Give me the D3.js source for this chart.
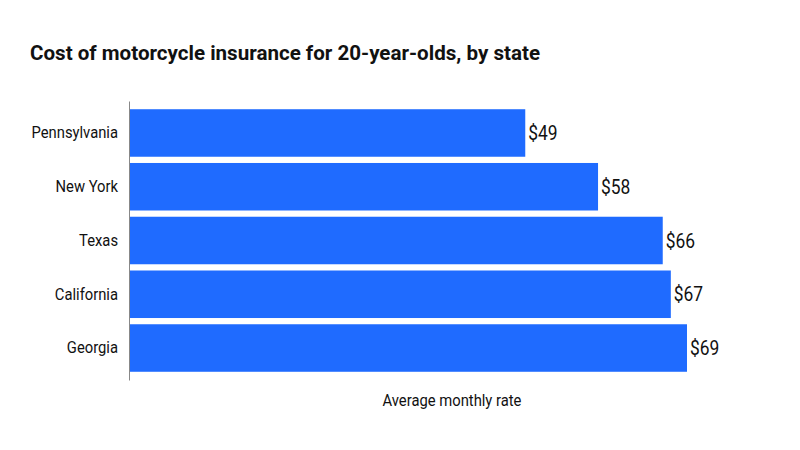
<!DOCTYPE html>
<html><head><meta charset="utf-8">
<script src="https://cdn.jsdelivr.net/npm/d3@7"></script>
<style>
body{margin:0;background:#fff;}
svg text{font-family:Roboto,"Noto Sans",sans-serif;}
</style></head>
<body><svg id="c" width="800" height="450"></svg>
<script>
const states = ["Pennsylvania","New York","Texas","California","Georgia"];
const rates = [49,58,66,67,69];
const title = "Cost of motorcycle insurance for 20-year-olds, by state";
const xTitle = "Average monthly rate";

const SX = 0.87; // condensed look
const svg = d3.select("#c");
svg.append("rect").attr("width",800).attr("height",450).attr("fill","#fff");

const x = d3.scaleLinear().domain([0,69]).range([129,687]);
const y = d3.scaleBand().domain(states).range([101,380]).paddingInner(0.116).paddingOuter(0.153);

svg.append("text").attr("x",30).attr("y",60).attr("font-size",20).attr("font-weight",700)
  .attr("fill","#111").attr("textLength",510).attr("lengthAdjust","spacingAndGlyphs").text(title);

svg.selectAll("rect.bar").data(states).join("rect").attr("class","bar")
  .attr("x",x(0)).attr("y",d=>y(d)).attr("width",(d,i)=>x(rates[i])-x(0)).attr("height",y.bandwidth())
  .attr("fill","#1f6bff");

const ax = svg.append("g").attr("transform",`translate(${x(0)},0)`).call(d3.axisLeft(y).tickSize(0));
ax.select(".domain").attr("stroke","#888").attr("stroke-width",1);
ax.selectAll(".tick text").attr("font-size",17).attr("fill","#111").style("font-family","Roboto")
  .attr("x",-11/SX).attr("transform",`scale(${SX},1)`);

svg.selectAll("text.val").data(states).join("text").attr("class","val")
  .attr("transform",`scale(${SX},1)`)
  .attr("x",(d,i)=>(x(rates[i])+3)/SX).attr("y",d=>y(d)+y.bandwidth()/2).attr("dy","0.36em")
  .attr("font-size",20).attr("fill","#111").text((d,i)=>"$"+rates[i]);

svg.append("text").attr("transform",`scale(${SX},1)`).attr("x",452/SX).attr("y",406)
  .attr("text-anchor","middle").attr("font-size",17).attr("fill","#111").text(xTitle);
</script></body></html>
